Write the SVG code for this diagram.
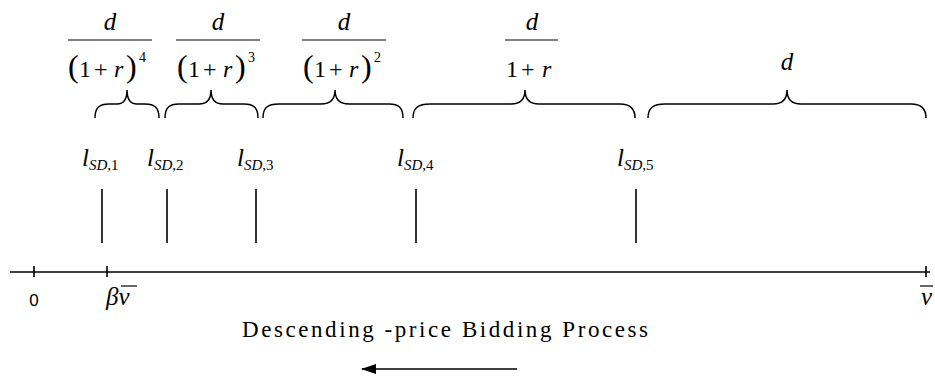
<svg xmlns="http://www.w3.org/2000/svg" width="935" height="379" viewBox="0 0 935 379">
<defs>
<marker id="ah" markerWidth="15" markerHeight="10" refX="14" refY="5" orient="auto" markerUnits="userSpaceOnUse">
<path d="M0,0 L15,5 L0,10 Z" fill="#000"/>
</marker>
</defs>
<rect width="935" height="379" fill="#fff"/>

<g id="frac1">
<text x="110" y="30" font-family="Liberation Serif" font-size="25" font-style="italic" text-anchor="middle">d</text>
<line x1="68" y1="40" x2="152" y2="40" stroke="#000" stroke-width="1.2"/>
<text y="77" font-family="Liberation Serif" font-size="24"><tspan x="68" font-size="32">(</tspan><tspan x="79">1</tspan><tspan x="94">+</tspan><tspan x="114" font-style="italic">r</tspan><tspan x="126" font-size="32">)</tspan><tspan x="139" y="62" font-size="14">4</tspan></text>
</g>
<g id="frac2">
<text x="218" y="30" font-family="Liberation Serif" font-size="25" font-style="italic" text-anchor="middle">d</text>
<line x1="176" y1="40" x2="260" y2="40" stroke="#000" stroke-width="1.2"/>
<text y="77" font-family="Liberation Serif" font-size="24"><tspan x="177" font-size="32">(</tspan><tspan x="188">1</tspan><tspan x="203">+</tspan><tspan x="223" font-style="italic">r</tspan><tspan x="235" font-size="32">)</tspan><tspan x="248" y="62" font-size="14">3</tspan></text>
</g>
<g id="frac3">
<text x="344" y="30" font-family="Liberation Serif" font-size="25" font-style="italic" text-anchor="middle">d</text>
<line x1="302" y1="40" x2="386" y2="40" stroke="#000" stroke-width="1.2"/>
<text y="77" font-family="Liberation Serif" font-size="24"><tspan x="303" font-size="32">(</tspan><tspan x="314">1</tspan><tspan x="329">+</tspan><tspan x="349" font-style="italic">r</tspan><tspan x="361" font-size="32">)</tspan><tspan x="374" y="62" font-size="14">2</tspan></text>
</g>
<g id="frac4">
<text x="532" y="30" font-family="Liberation Serif" font-size="25" font-style="italic" text-anchor="middle">d</text>
<line x1="505" y1="40" x2="558" y2="40" stroke="#000" stroke-width="1.2"/>
<text y="77" font-family="Liberation Serif" font-size="24"><tspan x="506">1</tspan><tspan x="521">+</tspan><tspan x="542" font-style="italic">r</tspan></text>
</g>
<g id="frac5">
<text x="787" y="70" font-family="Liberation Serif" font-size="25" font-style="italic" text-anchor="middle">d</text>
</g>

<g id="braces" stroke="#000" stroke-width="1.5" fill="none">
<path d="M95,118 C95,108 99,104 109,104 L117,104 C123,104 127,100 127,90 C127,100 131,104 137,104 L145,104 C155,104 159,108 159,118"/>
<path d="M165,118 C165,108 169,104 179,104 L199,104 C207,104 211,100 211,90 C211,100 215,104 223,104 L244,104 C254,104 258,108 258,118"/>
<path d="M263,118 C263,108 267,104 279,104 L321,104 C330,104 335,100 335,90 C335,100 340,104 349,104 L389,104 C399,104 403,108 403,118"/>
<path d="M413,118 C413,108 418,104 430,104 L511,104 C520,104 525,100 525,90 C525,100 530,104 539,104 L620,104 C630,104 635,108 635,118"/>
<path d="M648,118 C648,108 653,104 665,104 L773,104 C782,104 787,100 787,90 C787,100 792,104 801,104 L911,104 C921,104 926,108 926,118"/>
</g>

<g id="l1"><text y="166" font-family="Liberation Serif" font-size="25"><tspan x="82" font-style="italic">l</tspan><tspan y="170" font-size="15" font-style="italic">SD</tspan><tspan font-size="15">,1</tspan></text></g>
<g id="l2"><text y="166" font-family="Liberation Serif" font-size="25"><tspan x="147" font-style="italic">l</tspan><tspan y="170" font-size="15" font-style="italic">SD</tspan><tspan font-size="15">,2</tspan></text></g>
<g id="l3"><text y="166" font-family="Liberation Serif" font-size="25"><tspan x="237" font-style="italic">l</tspan><tspan y="170" font-size="15" font-style="italic">SD</tspan><tspan font-size="15">,3</tspan></text></g>
<g id="l4"><text y="166" font-family="Liberation Serif" font-size="25"><tspan x="397" font-style="italic">l</tspan><tspan y="170" font-size="15" font-style="italic">SD</tspan><tspan font-size="15">,4</tspan></text></g>
<g id="l5"><text y="166" font-family="Liberation Serif" font-size="25"><tspan x="617" font-style="italic">l</tspan><tspan y="170" font-size="15" font-style="italic">SD</tspan><tspan font-size="15">,5</tspan></text></g>

<g id="marks" stroke="#000" stroke-width="1.6">
<line x1="102" y1="189" x2="102" y2="243"/>
<line x1="167" y1="189" x2="167" y2="243"/>
<line x1="256" y1="189" x2="256" y2="243"/>
<line x1="416" y1="189" x2="416" y2="243"/>
<line x1="636" y1="189" x2="636" y2="243"/>
</g>

<g id="axis">
<g stroke="#000" stroke-width="1.6">
<line x1="10" y1="272" x2="930" y2="272"/>
<line x1="34" y1="266" x2="34" y2="277"/>
<line x1="107" y1="266" x2="107" y2="277"/>
<line x1="926" y1="266" x2="926" y2="277"/>
<line x1="121" y1="286" x2="137" y2="286" stroke-width="1.2"/>
<line x1="920" y1="286" x2="933" y2="286" stroke-width="1.2"/>
</g>
<text x="34" y="306" font-family="Liberation Sans" font-size="17" text-anchor="middle">0</text>
<text y="305" font-family="Liberation Serif" font-size="25" font-style="italic"><tspan x="106">β</tspan><tspan>v</tspan></text>
<text x="921" y="305" font-family="Liberation Serif" font-size="25" font-style="italic">v</text>
</g>

<g id="title">
<text x="242" y="337" font-family="Liberation Serif" font-size="23" textLength="406" lengthAdjust="spacing">Descending -price Bidding Process</text>
</g>
<g id="connectors">
<line x1="517" y1="369" x2="362" y2="369" stroke="#000" stroke-width="1.6" marker-end="url(#ah)"/>
</g>
</svg>
